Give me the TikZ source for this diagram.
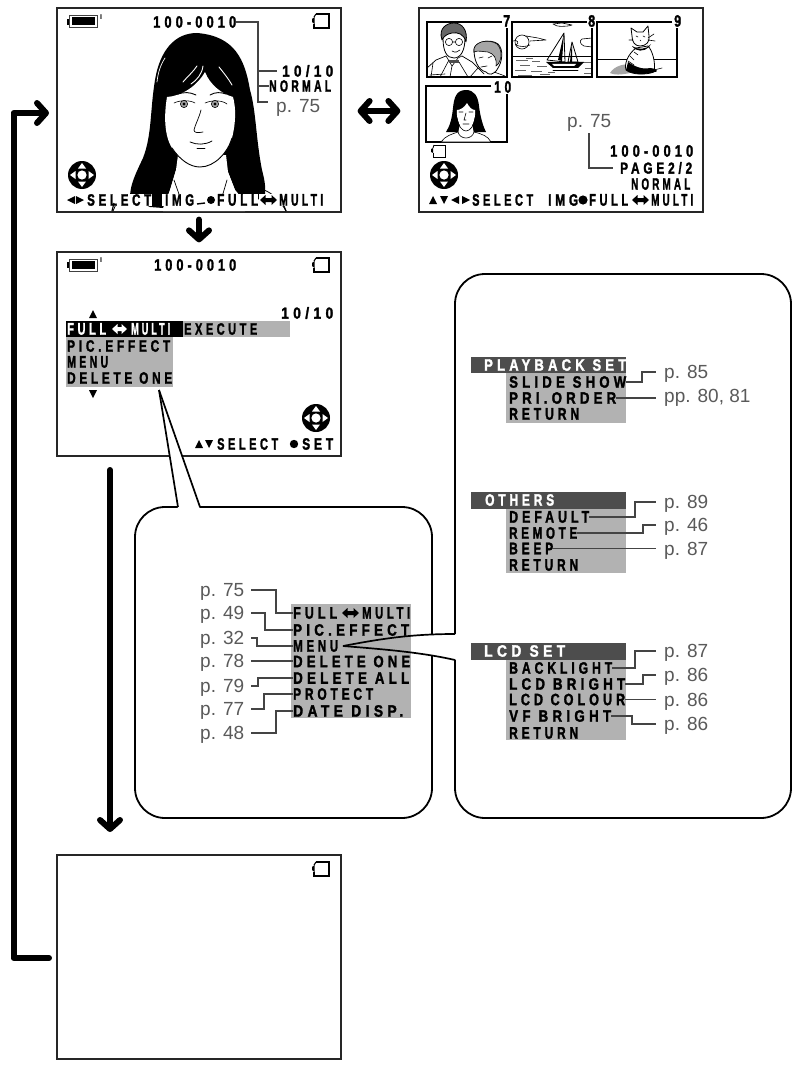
\documentclass[tikz,border=0pt]{standalone}
\usepackage{fontspec}
\usepackage{graphicx}
\usetikzlibrary{arrows.meta,calc}
\setmainfont{Liberation Sans}
\newfontfamily\lcdfont[LetterSpace=32,FakeBold=2]{Liberation Sans}
\definecolor{boxgray}{HTML}{B2B2B2}
\definecolor{bardark}{HTML}{4D4D4D}
\definecolor{leadgray}{HTML}{444444}
\definecolor{pagegray}{HTML}{5A5A5A}
\tikzset{
  screen/.style={draw=black!85,line width=1.2pt,inner sep=0pt,minimum width=284pt,minimum height=204pt},
  lcdtxt/.style={inner sep=0pt,anchor=west},
  pagelbl/.style={inner sep=0pt,anchor=west,text=pagegray,font=\fontsize{19}{19}\selectfont,text height=13.4pt,text depth=0pt},
  leader/.style={draw=leadgray,line width=1.9pt},
  bigarrow/.style={line width=6pt,line cap=round,line join=round},
  barb/.tip={Straight Barb[length=9pt,width=20pt,round]},
  callout/.style={draw=black,line width=1.8pt,rounded corners=30pt},
  art/.style={line width=0.6pt,line cap=round,line join=round}
}
\newcommand\lcd[6][black]{\pgfmathsetmacro\lcdwd{#4-#3}\node[lcdtxt,text=#1] (#2) at (#3,#5) {\resizebox{\lcdwd pt}{11.5pt}{\lcdfont\bfseries #6}};}
\newcommand\pg[4]{\node[pagelbl] (#1) at (#2,#3) {#4};}
\newcommand\dblarr[4][black]{\fill[#1] (#2,#4) -- ++(5.5,-5) -- ++(0,3) -- (#3-5.5,#4-2) -- ++(0,-3) -- (#3,#4) -- ++(-5.5,5) -- ++(0,-3) -- (#2+5.5,#4+2) -- ++(0,3) -- cycle;}
\newcommand\triU[2]{\fill (#1-4,#2+4) -- (#1+4,#2+4) -- (#1,#2-4) -- cycle;}
\newcommand\triD[2]{\fill (#1-4,#2-4) -- (#1+4,#2-4) -- (#1,#2+4) -- cycle;}
\newcommand\triL[2]{\fill (#1+4,#2-4) -- (#1+4,#2+4) -- (#1-4,#2) -- cycle;}
\newcommand\triR[2]{\fill (#1-4,#2-4) -- (#1-4,#2+4) -- (#1+4,#2) -- cycle;}
\newcommand\dpad[2]{\fill (#1,#2) circle (14);
  \fill[white] (#1,#2) circle (4.6);
  \fill[white] (#1-4,#2-6.5) -- (#1+4,#2-6.5) -- (#1,#2-12) -- cycle;
  \fill[white] (#1-4,#2+6.5) -- (#1+4,#2+6.5) -- (#1,#2+12) -- cycle;
  \fill[white] (#1-6.5,#2-4) -- (#1-6.5,#2+4) -- (#1-12,#2) -- cycle;
  \fill[white] (#1+6.5,#2-4) -- (#1+6.5,#2+4) -- (#1+12,#2) -- cycle;}
\newcommand\card[2]{\draw[line width=1.1pt] (#1+4,#2) -- (#1+17,#2) -- (#1+17,#2+14) -- (#1+2,#2+14) -- (#1+2,#2+10);
  \draw[line width=1.1pt] (#1+4,#2) -- (#1+2,#2+3);
  \fill (#1,#2+5) -- (#1+2.5,#2+3) -- (#1+2.5,#2+10) -- (#1,#2+8) -- cycle;}
\newcommand\cardS[2]{\draw[line width=0.9pt] (#1+3,#2) -- (#1+14,#2) -- (#1+14,#2+12) -- (#1+2,#2+12) -- (#1+2,#2+8);
  \draw[line width=0.9pt] (#1+3,#2) -- (#1+2,#2+3);
  \fill (#1,#2+4) -- (#1+2.2,#2+3) -- (#1+2.2,#2+8) -- (#1,#2+7) -- cycle;}
\newcommand\batt[2]{\draw[line width=1pt,draw=black!75] (#1+2,#2+1) rectangle (#1+30,#2+13);
  \fill (#1+4.5,#2+2.5) rectangle (#1+27.5,#2+10.5);
  \fill (#1,#2+4) rectangle (#1+2,#2+10);
  \node[inner sep=0pt,font=\fontsize{7}{7}\selectfont\bfseries] at (#1+34,#2+2.5) {I};}
\begin{document}
\begin{tikzpicture}[x=1pt,y=-1pt]
\useasboundingbox (0,0) rectangle (798,1065);
\fill[white] (0,0) rectangle (798,1065);

% ---------- screens
\node[screen] (s1) at (199,110) {};
\node[screen] (s2) at (561,110) {};
\node[screen] (s3) at (199,354) {};
\node[screen] (s4) at (199,957) {};

% ---------- screen 1: portrait
\fill (197,33) .. controls (175,33) and (160,50) .. (155,80) .. controls (150,110) and (152,135) .. (143,158)
  .. controls (135,175) and (130,185) .. (130,198) -- (150,207) -- (163,208) -- (170,190) -- (176,170)
  -- (228,172) -- (235,190) -- (245,202) -- (265,198) .. controls (266,185) and (264,178) .. (262,170)
  .. controls (256,140) and (256,110) .. (250,90) .. controls (245,60) and (235,36) .. (197,33) -- cycle;
\fill[white] (205,72) .. controls (197,86) and (182,96) .. (167,97) .. controls (164,115) and (164,135) .. (172,148)
  .. controls (180,160) and (190,167) .. (200,167) .. controls (215,167) and (228,152) .. (232,138)
  .. controls (236,122) and (236,108) .. (233,97) .. controls (222,94) and (210,85) .. (205,72) -- cycle;
\fill[white] (178,155) -- (226,155) -- (228,172) -- (235,190) -- (245,202) -- (245,211) -- (163,211) -- (170,190) -- (176,170) -- cycle;
\draw[art,line width=0.9pt] (172,148) .. controls (180,160) and (190,167) .. (200,167) .. controls (215,167) and (228,152) .. (232,138);
\draw[art,white,line width=0.9pt] (183,82) .. controls (188,76) and (193,72) .. (197,66);
\draw[art,white,line width=0.9pt] (191,84) .. controls (197,80) and (202,74) .. (203,66);
\draw[art,white,line width=0.9pt] (232,85) .. controls (228,78) and (223,72) .. (219,67);
\draw[art,white,line width=0.7pt] (157,82) .. controls (158,72) and (161,64) .. (165,58);
% brows, eyes
\draw[art,line width=0.9pt] (178,94) .. controls (184,92) and (190,92) .. (196,95);
\draw[art,line width=0.9pt] (210,95) .. controls (215,92) and (221,92) .. (226,94);
\draw[art] (174,103) .. controls (180,100) and (190,100) .. (195,103);
\draw[art] (205,103) .. controls (212,100) and (222,100) .. (227,104);
\foreach \ex in {184,215}{\draw[line width=0.6pt,fill=black!35] (\ex,104) circle (3.6); \fill (\ex,104) circle (1.6);}
\draw[art,line width=0.7pt] (201,110) .. controls (199,118) and (195,125) .. (194,130) .. controls (194,133) and (198,133) .. (203,132);
\draw[art,line width=0.8pt] (190,142) .. controls (197,145) and (205,145) .. (212,141);
\draw[art,line width=0.8pt] (197,148) -- (205,148);
\draw[art,line width=0.7pt] (174,180) -- (180,197);
\draw[art,line width=0.7pt] (227,180) -- (222,197);
\draw[art,line width=0.8pt] (120,195) -- (113,211);
\draw[art,line width=0.8pt] (264,190) .. controls (272,193) and (280,200) .. (286,211);
\fill[white] (85,194) rectangle (152,206);
\fill[white] (162,194) rectangle (195,206);
\fill[white] (216,194) rectangle (258,206);
\fill[white] (259,194) rectangle (323,206);
\draw[line width=1.2pt] (114,203) -- (112,211);
\draw[line width=1.2pt] (284,206) -- (286,211);
\draw[line width=1.4pt] (197,204) -- (205,203);
\batt{67}{15}
\card{312}{14}
\lcd{a1}{153}{236}{22}{100-0010}
\lcd{a2}{282}{333}{71}{10/10}
\lcd{a3}{269}{331}{86}{NORMAL}
\pg{p1}{276}{106}{p. 75}
\draw[leader] (a1.east) -| ([xshift=-24pt]a2.west) -- ([xshift=-5pt]a2.west);
\draw[leader] ([xshift=-24pt]a2.west) -- ([xshift=-18pt]p1.west |- a2.west) -- ([xshift=-18pt,yshift=4pt]p1.west) -- ([xshift=-8pt,yshift=4pt]p1.west);
\draw[leader] ([xshift=-11pt]a3.west) -- (a3.west);
\dpad{82}{175}
\triL{71}{200}\triR{80}{200}
\lcd{a4}{87}{151}{200}{SELECT}
\lcd{a5}{165}{194}{200}{IMG}
\fill (211,200) circle (4);
\lcd{a6}{217}{258}{200}{FULL}
\dblarr{260}{277}{200}
\lcd{a7}{279}{323}{200}{MULTI}

% ---------- screen 2: thumbnails
\fill[white] (427,22) rectangle (507,77);
\draw[line width=1.1pt] (502,22) -- (427,22) -- (427,77) -- (507,77) -- (507,28);
\lcd{n7}{503}{510}{21}{7}
\draw[line width=1.1pt] (587,22) -- (512,22) -- (512,77) -- (592,77) -- (592,28);
\lcd{n8}{588}{595}{21}{8}
\draw[line width=1.1pt] (672,22) -- (597,22) -- (597,77) -- (677,77) -- (677,28);
\lcd{n9}{674}{681}{21}{9}
\draw[line width=2.4pt] (491,86) -- (426,86) -- (426,142) -- (507,142) -- (507,94);
\lcd{n10}{494}{511}{87}{10}
% thumbnail 7: couple
\begin{scope}
\clip (427,22) rectangle (507,77);
\draw[art,line width=0.8pt] (443,38) .. controls (443,52) and (447,58) .. (454,58) .. controls (461,58) and (465,50) .. (465,38);
\draw[art,fill=black!60,line width=0.8pt] (442,40) .. controls (438,28) and (447,23) .. (454,23) .. controls (462,23) and (468,30) .. (466,42) .. controls (464,34) and (458,32) .. (452,33) .. controls (447,34) and (444,36) .. (442,40) -- cycle;
\draw[art] (449,42) circle (3.6) (459,42) circle (3.6) (452.6,42) -- (455.4,42);
\draw[art] (452,51) .. controls (455,53) and (458,52) .. (460,50);
\draw[art,line width=0.7pt] (427,68) -- (436,60) -- (446,56) (462,56) -- (472,62) -- (484,74);
\draw[art] (446,56) -- (452,66) -- (458,58) -- (462,56);
\draw[art] (452,66) -- (450,77) (449,60) -- (440,77) (459,62) -- (468,77) (433,63) -- (431,77);
\fill[black!70] (449,60) rectangle (459,63);
\draw[art,fill=white,line width=0.8pt] (474,50) .. controls (474,42) and (490,38) .. (498,44) .. controls (504,50) and (502,62) .. (498,68) .. controls (494,76) and (488,75) .. (486,72) .. controls (478,70) and (474,60) .. (474,50) -- cycle;
\draw[art,fill=black!35] (474,52) .. controls (472,42) and (488,38) .. (497,44) .. controls (503,50) and (502,62) .. (496,66) .. controls (497,58) and (494,54) .. (488,52) .. controls (484,52) and (478,50) .. (474,52) -- cycle;
\draw[art] (479,58) -- (483,57) (488,58) -- (492,56) (481,67) -- (487,66);
\draw[art] (470,77) -- (478,68) (494,72) -- (505,76);
\draw[art] (430,75) -- (445,74);
\end{scope}
% thumbnail 8: sailboat
\begin{scope}
\clip (512,22) rectangle (592,77);
\draw[art] (513,56) -- (592,56);
\draw[art,fill=white] (553,24) .. controls (556,27) and (566,27) .. (572,25) -- (562,23) -- cycle;
\draw[art] (522,42) circle (7);
\draw[art] (513,41) .. controls (517,39) and (520,43) .. (516,45) .. controls (520,47) and (526,47) .. (530,45) (526,36) -- (538,38) -- (546,40) -- (530,41);
\draw[art] (582,39) -- (592,38) (584,46) -- (592,47) (582,39) .. controls (579,41) and (580,44) .. (584,46);
\foreach \a/\b/\c in {516/60/528,532/61/540,520/65/530,537/66/547,515/70/526,531/71/542,548/72/555,518/75/532,583/62/591,585/68/591,584/73/591,540/74/550,526/58/533}{\draw[line width=0.4pt,black!60] (\a,\b) -- (\c,\b);}
\draw[art,line width=0.8pt] (564,33) -- (547,60) -- (565,62) -- cycle;
\fill (564,33) -- (558,60) -- (562,61) -- cycle;
\draw[art,line width=0.8pt] (572,42) -- (568,62) -- (578,62) -- cycle;
\fill (572,42) -- (570,62) -- (572,62) -- cycle;
\fill (546,62) -- (584,62) -- (578,68) -- (553,68) -- cycle;
\fill[white] (552,64) -- (576,64) -- (574,66) -- (554,66) -- cycle;
\draw[art] (553,70) -- (578,70);
\end{scope}
% thumbnail 9: cat
\begin{scope}
\clip (597,22) rectangle (677,77);
\fill[black!35] (610,73) .. controls (614,66) and (626,62) .. (634,66) -- (634,72) .. controls (626,74) and (616,76) .. (610,73) -- cycle;
\draw[art] (597,59) -- (677,59);
\draw[art,fill=white,line width=0.8pt] (636,48) .. controls (628,54) and (624,64) .. (626,70) .. controls (632,75) and (646,75) .. (654,72) .. controls (656,62) and (652,50) .. (648,46) -- cycle;
\fill (626,70) .. controls (632,75) and (646,75) .. (654,72) .. controls (660,72) and (656,68) .. (650,68) .. controls (642,70) and (634,66) .. (628,62) -- cycle;
\draw[art,fill=white,line width=0.8pt] (632,36) -- (631,28) -- (637,32) -- (643,32) -- (648,26) -- (649,36) .. controls (650,42) and (646,46) .. (640,46) .. controls (635,46) and (632,42) .. (632,36) -- cycle;
\draw[art] (636,36) -- (638,37) (643,36) -- (645,37) (640,40) -- (641,41);
\draw[art] (648,38) -- (654,34) (648,40) -- (655,41) (633,40) -- (629,40);
\fill (632,46) .. controls (638,50) and (646,50) .. (651,44) -- (649,47) .. controls (644,52) and (636,52) .. (632,46) -- cycle;
\draw[art] (630,56) -- (634,60) (628,61) -- (634,65) (634,52) -- (638,55);
\draw[art] (654,70) -- (662,68);
\end{scope}
% thumbnail 10: portrait
\begin{scope}
\clip (426,86) rectangle (507,142);
\draw[art,fill=white] (441,142) .. controls (445,136) and (452,134) .. (458,132) -- (474,132) .. controls (482,134) and (488,136) .. (491,142) -- cycle;
\fill (466,90) .. controls (456,90) and (454,98) .. (453,108) .. controls (452,118) and (450,126) .. (446,132) -- (458,132) -- (474,132) -- (486,132) .. controls (482,124) and (480,114) .. (479,106) .. controls (478,96) and (474,90) .. (466,90) -- cycle;
\fill[white] (467,103) .. controls (464,108) and (460,110) .. (457,110) .. controls (456,118) and (460,130) .. (466,131) .. controls (472,130) and (476,118) .. (475,110) .. controls (472,110) and (469,107) .. (467,103) -- cycle;
\fill[white] (460,124) -- (472,124) -- (474,134) -- (458,134) -- cycle;
\draw[art,line width=0.6pt] (457,118) .. controls (459,128) and (463,131) .. (466,131) .. controls (470,131) and (474,126) .. (475,118);
\draw[art] (459,112) -- (463,112) (469,112) -- (473,112) (466,113) -- (464,120) -- (466,120) (463,124) -- (469,124);
\draw[art] (458,132) .. controls (460,140) and (472,140) .. (474,132);
\end{scope}
\cardS{431}{145}
\dpad{444}{175}
\pg{p2}{567}{121}{p. 75}
\lcd{b1}{610}{693}{151}{100-0010}
\lcd{b2}{620}{692}{168}{PAGE2/2}
\lcd{b3}{631}{690}{184}{NORMAL}
\coordinate (p2foot) at ([yshift=-12pt]p2.center);
\draw[leader] (p2foot) |- ([xshift=-7pt]b2.west);
\triU{433}{200}\triD{444}{200}\triL{455}{200}\triR{466}{200}
\lcd{b4}{472}{533}{200}{SELECT}
\lcd{b5}{548}{578}{200}{IMG}
\fill (583,200) circle (4.6);
\lcd{b6}{589}{628}{200}{FULL}
\dblarr{632}{649}{200}
\lcd{b7}{651}{693}{200}{MULTI}

% ---------- screen 3: menu
\batt{67}{258}
\card{312}{258}
\lcd{c1}{154}{236}{265}{100-0010}
\lcd{c2}{281}{333}{313}{10/10}
\triU{93}{314}
\fill[black] (66,321) rectangle (183,337);
\fill[boxgray] (183,321) rectangle (290,337);
\fill[boxgray] (66,337) rectangle (173,387);
\lcd[white]{c3}{67}{106}{329}{FULL}
\dblarr[white]{112}{127}{329}
\lcd[white]{c4}{131}{170}{329}{MULTI}
\lcd{c5}{184}{257}{329}{EXECUTE}
\lcd{c6}{67}{170}{346}{PIC.EFFECT}
\lcd{c7}{67}{108}{362}{MENU}
\lcd{c8}{67}{172}{378}{DELETE ONE}
\triD{93}{394}
\dpad{316}{418}
\triU{199}{444}\triD{209}{444}
\lcd{c9}{217}{278}{444}{SELECT}
\fill (294,444) circle (4.2);
\lcd{c10}{302}{333}{444}{SET}

% ---------- screen 4
\card{312}{862}

% ---------- arrows between screens
\coordinate (loopA) at (49,958);
\coordinate (loopB) at (13.5,958);
\coordinate (loopC) at (13.5,113);
\coordinate (loopD) at (49,113);
\draw[bigarrow,-{barb}] (loopA) -- (loopB) -- (loopC) -- (loopD);
\coordinate (dblL) at ([shift={(16pt,-1pt)}]s1.east);
\coordinate (dblR) at ([shift={(-18pt,-1pt)}]s2.west);
\draw[bigarrow,{barb}-{barb}] (dblL) -- (dblR);
\coordinate (dnA) at ([yshift=-7pt]s1.south);
\coordinate (dnB) at ([yshift=9pt]s3.north);
\draw[bigarrow,-{barb}] (dnA) -- (dnB);
\coordinate (longA) at (110,470);
\coordinate (longB) at (110,832);
\draw[bigarrow,-{barb}] (longA) -- (longB);

% ---------- right callout and left callout
\draw[callout] (135,507) rectangle (432,818);
\draw[callout] (455,274) rectangle (791,818);
% pointer of left callout
\coordinate (ptA) at (159,390);
\fill[white] (ptA) -- (178,509) -- (200,509) -- cycle;
\draw[line width=1.7pt] (ptA) -- (178,507);
\draw[line width=1.7pt] (ptA) -- (200,507);
% wedge from MENU to the right callout
\coordinate (wA) at (343,646);
\fill[white] (wA) .. controls (380,639) and (410,634) .. (457,634) -- (457,660) .. controls (420,652) and (380,649) .. (wA) -- cycle;

% ---------- left callout content
\fill[boxgray] (291,604) rectangle (411,718);
\lcd{d1}{293}{337}{613}{FULL}
\dblarr{342}{359}{613}
\lcd{d1b}{362}{410}{613}{MULTI}
\lcd{d2}{293}{409}{630}{PIC.EFFECT}
\lcd{d3}{293}{338}{646}{MENU}
\lcd{d4}{293}{410}{661.5}{DELETE ONE}
\lcd{d5}{293}{409}{678}{DELETE ALL}
\lcd{d6}{293}{373}{694}{PROTECT}
\lcd{d7}{293}{403}{711}{DATE DISP.}
\draw[line width=1.7pt] (wA) .. controls (380,639) and (410,634) .. (455,634);
\draw[line width=1.7pt] (wA) .. controls (380,649) and (420,652) .. (455,660);
\pg{e1}{200}{590}{p. 75}
\pg{e2}{200}{613}{p. 49}
\pg{e3}{200}{638}{p. 32}
\pg{e4}{200}{661}{p. 78}
\pg{e5}{200}{686}{p. 79}
\pg{e6}{200}{709}{p. 77}
\pg{e7}{200}{733}{p. 48}
\draw[leader] ([xshift=7pt]e1.east) -| ([xshift=-17pt]d1.west) -- (d1.west);
\draw[leader] ([xshift=7pt]e2.east) -| ([xshift=-28pt]d2.west) -- (d2.west);
\draw[leader] ([xshift=7pt]e3.east) -| ([xshift=-36pt]d3.west) -- (d3.west);
\draw[leader] ([xshift=7pt]e4.east) -- (d4.west |- e4.east);
\draw[leader] ([xshift=7pt]e5.east) -| ([xshift=-35pt]d5.west) -- (d5.west);
\draw[leader] ([xshift=7pt]e6.east) -| ([xshift=-29pt]d6.west) -- (d6.west);
\draw[leader] ([xshift=7pt]e7.east) -| ([xshift=-17pt]d7.west) -- (d7.west);

% ---------- playback set
\fill[bardark] (471,357) rectangle (626,373);
\fill[boxgray] (506,373) rectangle (626,423);
\lcd[white]{f0}{484}{626}{365}{PLAYBACK SET}
\lcd{f1}{509}{626}{382}{SLIDE SHOW}
\lcd{f2}{509}{616}{398}{PRI.ORDER}
\lcd{f3}{509}{579}{414}{RETURN}
\pg{g1}{664}{372}{p. 85}
\pg{g2}{664}{396}{pp. 80, 81}
\draw[leader] (f1.east) -| ([xshift=-22pt]g1.west) -- ([xshift=-8pt]g1.west);
\draw[leader] (f2.east) -- ([xshift=-8pt]g2.west |- f2.east);

% ---------- others
\fill[bardark] (471,492) rectangle (626,509);
\fill[boxgray] (506,509) rectangle (626,573);
\lcd[white]{h0}{485}{554}{500}{OTHERS}
\lcd{h1}{509}{589}{517}{DEFAULT}
\lcd{h2}{509}{577}{533}{REMOTE}
\lcd{h3}{509}{553}{548.5}{BEEP}
\lcd{h4}{509}{578}{565}{RETURN}
\pg{i1}{664}{502}{p. 89}
\pg{i2}{664}{525}{p. 46}
\pg{i3}{664}{549}{p. 87}
\draw[leader] (h1.east) -| ([xshift=-29pt]i1.west) -- ([xshift=-8pt]i1.west);
\draw[leader] (h2.east) -| ([xshift=-21pt]i2.west) -- ([xshift=-8pt]i2.west);
\draw[leader] (h3.east) -- ([xshift=-8pt]i3.west |- h3.east);

% ---------- LCD set
\fill[bardark] (471,643) rectangle (626,660);
\fill[boxgray] (506,660) rectangle (626,740);
\lcd[white]{j0}{484}{565}{651}{LCD SET}
\lcd{j1}{509}{612}{668}{BACKLIGHT}
\lcd{j2}{509}{625}{684}{LCD BRIGHT}
\lcd{j3}{509}{625}{699.5}{LCD COLOUR}
\lcd{j4}{509}{611}{716}{VF BRIGHT}
\lcd{j5}{509}{578}{733}{RETURN}
\pg{k1}{664}{651}{p. 87}
\pg{k2}{664}{675}{p. 86}
\pg{k3}{664}{700}{p. 86}
\pg{k4}{664}{724}{p. 86}
\draw[leader] (j1.east) -| ([xshift=-29pt]k1.west) -- ([xshift=-8pt]k1.west);
\draw[leader] (j2.east) -| ([xshift=-21pt]k2.west) -- ([xshift=-8pt]k2.west);
\draw[leader] (j3.east) -- ([xshift=-8pt]k3.west |- j3.east);
\draw[leader] (j4.east) -| ([xshift=-32pt]k4.west) -- ([xshift=-8pt]k4.west);
\end{tikzpicture}
\end{document}
